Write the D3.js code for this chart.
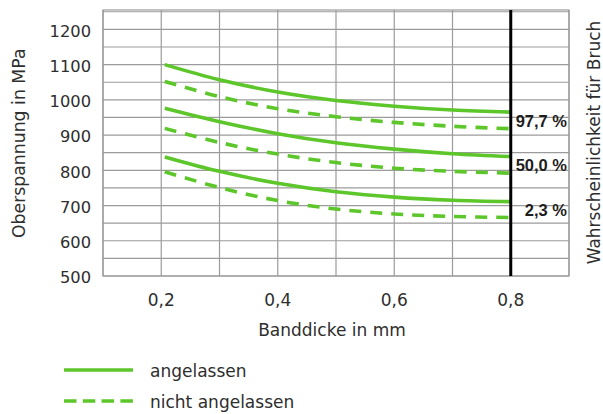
<!DOCTYPE html>
<html><head><meta charset="utf-8">
<script src="https://cdn.jsdelivr.net/npm/d3@7/dist/d3.min.js"></script>
<style>
html,body{margin:0;padding:0;background:#fff;}
svg{display:block;}
</style></head>
<body>
<svg id="chart" width="603" height="414"></svg>
<script>
// ---- data ----
const xTicks = [0.2, 0.4, 0.6, 0.8];
const xGrid = [0.1, 0.2, 0.3, 0.4, 0.5, 0.6, 0.7, 0.8, 0.9];
const yTicks = [500, 600, 700, 800, 900, 1000, 1100, 1200];
const yGrid = [500, 550, 600, 650, 700, 750, 800, 850, 900, 950, 1000, 1050, 1100, 1150, 1200, 1250];
const thickness = [0.206, 0.3, 0.4, 0.5, 0.6, 0.7, 0.8];
const angelassen977 = [1100, 1057, 1022, 998, 982, 971, 965];
const nichtAngelassen977 = [1052, 1009, 975, 952, 936, 925, 918];
const angelassen500 = [976, 938, 904, 878, 860, 847, 839];
const nichtAngelassen500 = [919, 879, 846, 822, 806, 797, 792];
const angelassen23 = [838, 797, 763, 739, 724, 715, 711];
const nichtAngelassen23 = [796, 751, 714, 690, 676, 669, 666];
const probLabels = ["97,7 %", "50,0 %", "2,3 %"];
const legendLabels = ["angelassen", "nicht angelassen"];

const series = [
  {vals: angelassen977, dashed: false, label: probLabels[0]},
  {vals: nichtAngelassen977, dashed: true},
  {vals: angelassen500, dashed: false, label: probLabels[1]},
  {vals: nichtAngelassen500, dashed: true},
  {vals: angelassen23, dashed: false, label: probLabels[2]},
  {vals: nichtAngelassen23, dashed: true}
];

const green = "#5cc62a";
const gridCol = "#9b9b9b";
const font = "'DejaVu Sans', sans-serif";
const textCol = "#2e2e2e";

const svg = d3.select("#chart");
const x = d3.scaleLinear().domain([0.1, 0.9]).range([103, 569]);
const y = d3.scaleLinear().domain([500, 1255]).range([276, 10]);

// grid
const g = svg.append("g");
g.selectAll("line.h").data(yGrid).enter().append("line")
  .attr("x1", x(0.1)).attr("x2", x(0.9))
  .attr("y1", d => y(d)).attr("y2", d => y(d))
  .attr("stroke", gridCol).attr("stroke-width", 1.2);
g.selectAll("line.v").data(xGrid).enter().append("line")
  .attr("x1", d => x(d)).attr("x2", d => x(d))
  .attr("y1", y(500)).attr("y2", y(1255))
  .attr("stroke", gridCol).attr("stroke-width", 1.2);
g.append("rect").attr("x", x(0.1)).attr("y", y(1255))
  .attr("width", x(0.9) - x(0.1)).attr("height", y(500) - y(1255))
  .attr("fill", "none").attr("stroke", gridCol).attr("stroke-width", 1.2);

// curves
const line = d3.line().x((d, i) => x(thickness[i])).y(d => y(d)).curve(d3.curveCatmullRom.alpha(0.5));
svg.selectAll("path.curve").data(series).enter().append("path")
  .attr("d", d => line(d.vals))
  .attr("fill", "none").attr("stroke", green).attr("stroke-width", 3.6)
  .attr("stroke-dasharray", d => d.dashed ? "12,9" : null);

// black vertical line at 0.8
svg.append("line").attr("x1", x(0.8)).attr("x2", x(0.8))
  .attr("y1", y(500)).attr("y2", y(1255))
  .attr("stroke", "#000").attr("stroke-width", 3);

// probability labels
const labelled = series.filter(s => s.label);
svg.selectAll("text.prob").data(labelled).enter().append("text")
  .attr("x", 567)
  .attr("y", d => (y(d.vals[6]) + y(series[series.indexOf(d) + 1].vals[6])) / 2 + 6.5)
  .attr("text-anchor", "end")
  .attr("font-family", "'Liberation Sans', Arial, sans-serif")
  .attr("font-weight", "bold").attr("font-size", 16.5).attr("fill", "#1e1e1e")
  .text(d => d.label);

// y tick labels
svg.selectAll("text.yt").data(yTicks).enter().append("text")
  .attr("x", 91).attr("y", d => y(d) + 7.3)
  .attr("text-anchor", "end").attr("font-family", font).attr("font-size", 16.3)
  .attr("fill", textCol).text(d => d);

// x tick labels
svg.selectAll("text.xt").data(xTicks).enter().append("text")
  .attr("x", d => x(d)).attr("y", 305.7)
  .attr("text-anchor", "middle").attr("font-family", font).attr("font-size", 17)
  .attr("fill", textCol).text(d => d3.format(".1f")(d).replace(".", ","));

// axis titles
svg.append("text").attr("x", 332).attr("y", 335.7)
  .attr("text-anchor", "middle").attr("font-family", font).attr("font-size", 17)
  .attr("fill", textCol).text("Banddicke in mm");
svg.append("text").attr("transform", "translate(24.6,143.3) rotate(-90)")
  .attr("text-anchor", "middle").attr("font-family", font).attr("font-size", 17.3)
  .attr("fill", textCol).text("Oberspannung in MPa");
svg.append("text").attr("transform", "translate(600,142.5) rotate(-90)")
  .attr("text-anchor", "middle").attr("font-family", font).attr("font-size", 17)
  .attr("fill", textCol).text("Wahrscheinlichkeit für Bruch");

// legend
const leg = svg.append("g");
legendLabels.forEach((lab, i) => {
  const ly = 370 + i * 31;
  leg.append("line").attr("x1", 64).attr("x2", 133).attr("y1", ly).attr("y2", ly)
    .attr("stroke", green).attr("stroke-width", 3.6)
    .attr("stroke-dasharray", i === 1 ? "12.5,6.3" : null);
  leg.append("text").attr("x", 150).attr("y", ly + 6.7)
    .attr("font-family", font).attr("font-size", 17).attr("fill", textCol).text(lab);
});
</script>
</body></html>
